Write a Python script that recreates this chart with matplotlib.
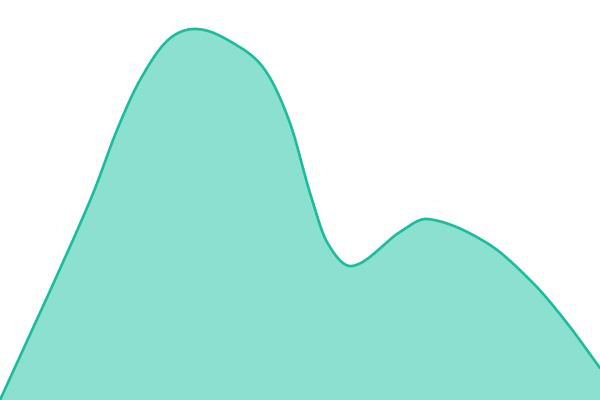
import numpy as np
import matplotlib
matplotlib.use("Agg")
import matplotlib.pyplot as plt

# points (x, height above bottom)
xs = [0, 45, 92, 117, 140, 168, 197, 233, 265, 290, 310, 327, 352, 400, 428, 487, 533, 567, 600]
ys = [0, 98, 204, 270, 320, 360, 371, 357, 330, 277, 207, 158, 134, 168, 181, 157, 117, 77, 32]


def hermite(x, y, n=40):
    x = np.asarray(x, float)
    y = np.asarray(y, float)
    m = np.empty_like(y)
    m[1:-1] = (y[2:] - y[:-2]) / (x[2:] - x[:-2])
    m[0] = (y[1] - y[0]) / (x[1] - x[0])
    m[-1] = (y[-1] - y[-2]) / (x[-1] - x[-2])
    px, py = [], []
    t = np.linspace(0, 1, n)
    for i in range(len(x) - 1):
        h = x[i + 1] - x[i]
        h00 = 2 * t**3 - 3 * t**2 + 1
        h10 = t**3 - 2 * t**2 + t
        h01 = -2 * t**3 + 3 * t**2
        h11 = t**3 - t**2
        seg = h00 * y[i] + h10 * h * m[i] + h01 * y[i + 1] + h11 * h * m[i + 1]
        px.append(x[i] + t * h)
        py.append(seg)
    return np.concatenate(px), np.concatenate(py)


cx, cy = hermite(xs, ys)

fig = plt.figure(figsize=(6, 4), dpi=100)
ax = fig.add_axes([0, 0, 1, 1])
ax.fill_between(cx, cy, 0, color="#8be0cf", lw=0)
ax.plot(cx, cy, color="#1abc9c", lw=1.9, solid_capstyle="round")
ax.set_xlim(0, 600)
ax.set_ylim(0, 400)
ax.axis("off")
fig.savefig("out.png", dpi=100)
